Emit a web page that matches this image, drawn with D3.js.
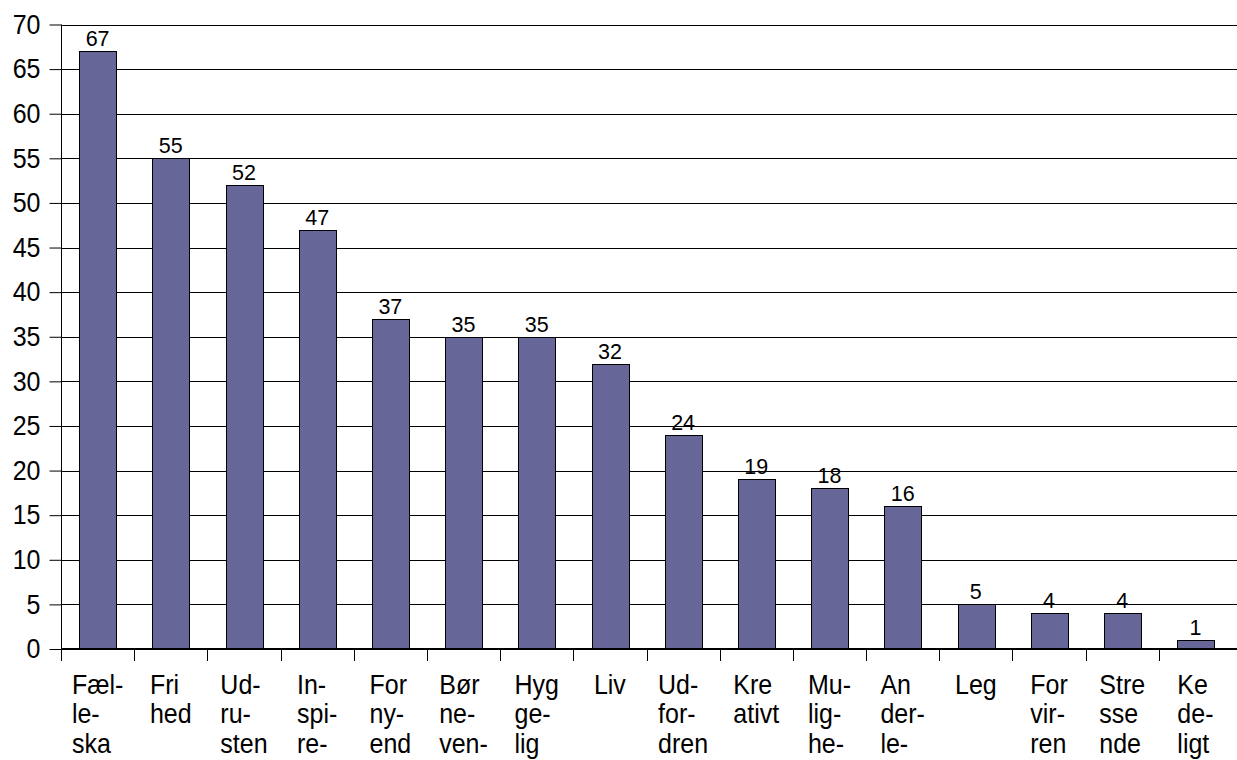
<!DOCTYPE html>
<html>
<head>
<meta charset="utf-8">
<script src="https://cdn.jsdelivr.net/npm/d3@7"></script>
<style>
  html, body { margin: 0; padding: 0; background: #fff; }
  svg { display: block; }
  text { font-family: "Liberation Sans", Arial, sans-serif; fill: #000; }
</style>
</head>
<body>
<svg id="chart" width="1237" height="760"></svg>
<script>
const categories = [
  ["Fæl-", "le-", "ska"],
  ["Fri", "hed"],
  ["Ud-", "ru-", "sten"],
  ["In-", "spi-", "re-"],
  ["For", "ny-", "end"],
  ["Bør", "ne-", "ven-"],
  ["Hyg", "ge-", "lig"],
  ["Liv"],
  ["Ud-", "for-", "dren"],
  ["Kre", "ativt"],
  ["Mu-", "lig-", "he-"],
  ["An", "der-", "le-"],
  ["Leg"],
  ["For", "vir-", "ren"],
  ["Stre", "sse", "nde"],
  ["Ke", "de-", "ligt"]
];
const values = [67, 55, 52, 47, 37, 35, 35, 32, 24, 19, 18, 16, 5, 4, 4, 1];
const yTicks = [0, 5, 10, 15, 20, 25, 30, 35, 40, 45, 50, 55, 60, 65, 70];

const svg = d3.select("#chart");
const mLeft = 61, mRight = 1232, mTop = 24.5, mBottom = 649;
const stretch = 1.1;

const x = d3.scaleBand()
  .domain(d3.range(categories.length))
  .range([mLeft, mRight])
  .paddingInner(0.5).paddingOuter(0.25);
const xb = d3.scaleBand().domain(d3.range(categories.length)).range([mLeft, mRight]);
const y = d3.scaleLinear().domain([0, 70]).range([mBottom, mTop]);

// gridlines
svg.append("g").selectAll("line").data(yTicks.filter(d => d > 0)).join("line")
  .attr("x1", mLeft).attr("x2", 1237)
  .attr("y1", d => Math.round(y(d)) + 0.5).attr("y2", d => Math.round(y(d)) + 0.5)
  .attr("stroke", "#000").attr("stroke-width", 1);

// y axis
const yAxis = svg.append("g").attr("transform", `translate(${mLeft + 0.5},0)`)
  .call(d3.axisLeft(y).tickValues(yTicks).tickSize(12).tickPadding(9));
yAxis.select(".domain").remove();
yAxis.selectAll(".tick line").attr("stroke", "#000");
yAxis.selectAll(".tick text")
  .attr("font-size", 25)
  .attr("font-family", "Liberation Sans, Arial, sans-serif")
  .attr("fill", "#000")
  .attr("transform", `scale(1,${stretch})`);
svg.append("line").attr("x1", mLeft + 0.5).attr("x2", mLeft + 0.5)
  .attr("y1", mTop).attr("y2", mBottom + 12).attr("stroke", "#000");

// bars
svg.append("g").selectAll("rect").data(values).join("rect")
  .attr("x", (d, i) => Math.round(x(i)) + 0.5)
  .attr("width", Math.round(x.bandwidth()))
  .attr("y", d => Math.round(y(d)) + 0.5)
  .attr("height", d => mBottom - Math.round(y(d)))
  .attr("fill", "#666699").attr("stroke", "#000").attr("stroke-width", 1);

// value labels
svg.append("g").selectAll("text").data(values).join("text")
  .attr("transform", (d, i) => `translate(${x(i) + x.bandwidth() / 2},${y(d) - 5}) scale(1,1.05)`)
  .attr("text-anchor", "middle").attr("font-size", 21.5)
  .text(d => d);

// x axis line and ticks
svg.append("line").attr("x1", mLeft).attr("x2", 1237)
  .attr("y1", mBottom).attr("y2", mBottom).attr("stroke", "#000").attr("stroke-width", 2);
svg.append("g").selectAll("line").data(d3.range(categories.length)).join("line")
  .attr("x1", i => Math.round(xb(i)) + 0.5).attr("x2", i => Math.round(xb(i)) + 0.5)
  .attr("y1", mBottom).attr("y2", mBottom + 12).attr("stroke", "#000");

// category labels (multi-line, left aligned, block centred)
const lab = svg.append("g").selectAll("text").data(categories).join("text")
  .attr("font-size", 25);
lab.each(function(lines, i) {
  const t = d3.select(this);
  lines.forEach((ln, k) => {
    t.append("tspan").attr("x", 0).attr("y", k * 29.5 / stretch).text(ln);
  });
  let maxW = 0;
  t.selectAll("tspan").each(function() { maxW = Math.max(maxW, this.getComputedTextLength()); });
  const x0 = xb(i) + xb.bandwidth() / 2 - maxW / 2;
  t.attr("transform", `translate(${x0},694) scale(1,${stretch})`);
});
</script>
</body>
</html>
